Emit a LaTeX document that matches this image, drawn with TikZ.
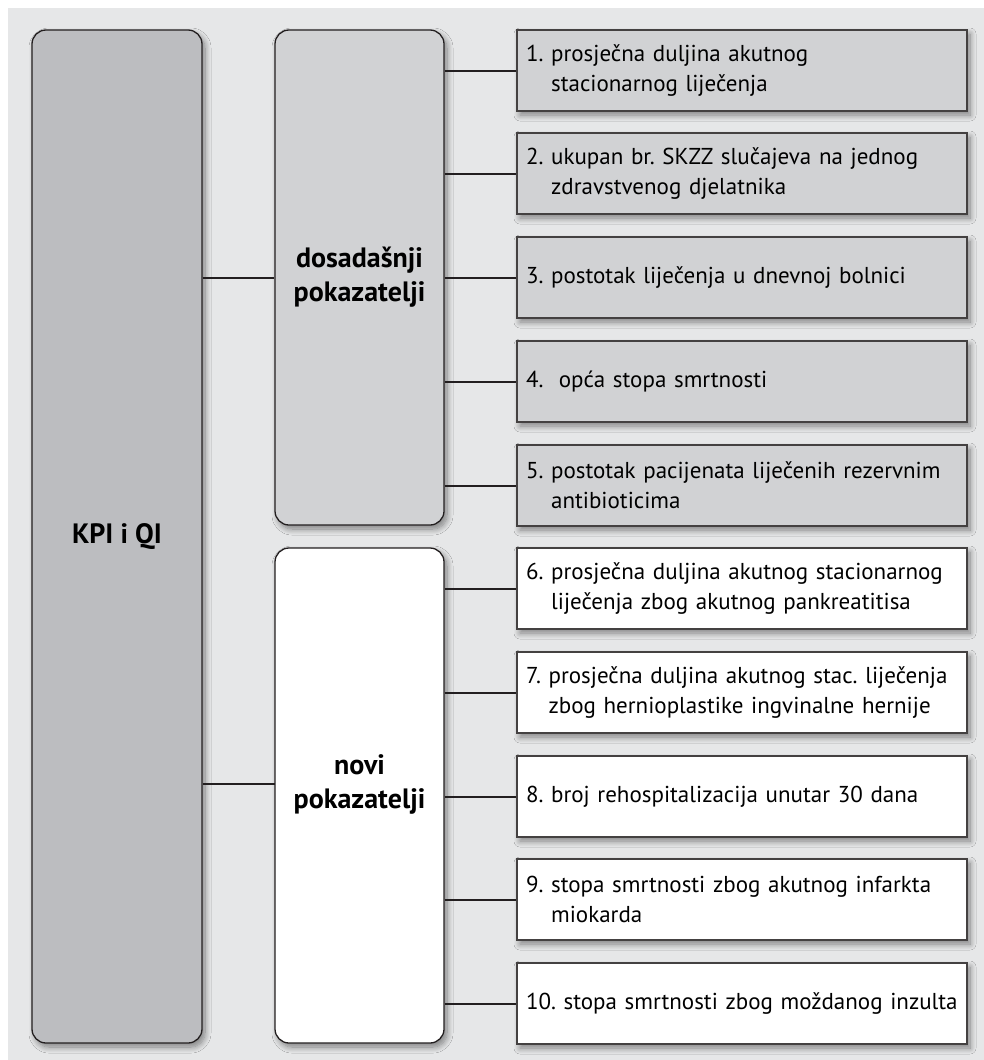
\documentclass[tikz,border=0pt]{standalone}
\usepackage{fontspec}
\setmainfont{PT Sans}
\usepackage{xcolor}
\usetikzlibrary{shadows.blur}
\definecolor{pozadina}{HTML}{E6E7E8}
\definecolor{sivatamna}{HTML}{BCBDC0}
\definecolor{sivasvijetla}{HTML}{D1D2D4}
\definecolor{rub}{HTML}{231F20}
\frenchspacing

\begin{document}
\begin{tikzpicture}[
			     x=1pt, y=-1pt,
			     sjena/.style={blur shadow={shadow xshift=3pt, shadow yshift=-4pt, shadow blur radius=6pt, shadow blur steps=10, shadow opacity=45}},
			     okvir/.style={draw=rub, line width=1.3pt, rounded corners=14pt, sjena},
			     naslov/.style={align=center, font=\fontsize{28}{34}\selectfont\bfseries},
			     stavka/.style={draw=rub!85, line width=1.2pt, sjena, minimum height=81pt, text width=432pt, inner xsep=9pt, align=left, font=\fontsize{23}{30}\selectfont},
			     veza/.style={draw=rub, line width=2pt}
			     ]
\useasboundingbox (0,0) rectangle (984,1060);
\fill[pozadina] (8,8) rectangle (984,1060);

\node[okvir, naslov, fill=sivatamna, minimum width=170pt, minimum height=1013pt] (kpi) at (117,536.5) {KPI i QI};
\node[okvir, naslov, fill=sivasvijetla, minimum width=169pt, minimum height=495pt] (dosad) at (359.5,277.5) {dosadašnji\\pokazatelji};
\node[okvir, fill=white, minimum width=169pt, minimum height=495pt] (novi) at (359.5,795.5) {};
\coordinate (novi-ulaz) at (275,784);
\node[naslov] (novi-natpis) at (novi.center |- novi-ulaz) {novi\\pokazatelji};

\node[stavka, fill=sivasvijetla] (s1) at (742,70.5) {1. prosječna duljina akutnog\\\phantom{1. }stacionarnog liječenja};
\node[stavka, fill=sivasvijetla] (s2) at (742,173.5) {2. ukupan br. SKZZ slučajeva na jednog\\\phantom{2. }zdravstvenog djelatnika};
\node[stavka, fill=sivasvijetla] (s3) at (742,277.5) {3. postotak liječenja u dnevnoj bolnici};
\node[stavka, fill=sivasvijetla] (s4) at (742,381.5) {4.\ \ opća stopa smrtnosti};
\node[stavka, fill=sivasvijetla] (s5) at (742,485.5) {5. postotak pacijenata liječenih rezervnim\\\phantom{5. }antibioticima};
\node[stavka, fill=white] (s6) at (742,588.5) {6. prosječna duljina akutnog stacionarnog\\\phantom{6. }liječenja zbog akutnog pankreatitisa};
\node[stavka, fill=white] (s7) at (742,692.5) {7. prosječna duljina akutnog stac. liječenja\\\phantom{7. }zbog hernioplastike ingvinalne hernije};
\node[stavka, fill=white] (s8) at (742,796.5) {8. broj rehospitalizacija unutar 30 dana};
\node[stavka, fill=white] (s9) at (742,899.5) {9. stopa smrtnosti zbog akutnog infarkta\\\phantom{9. }miokarda};
\node[stavka, fill=white] (s10) at (742,1003.5) {10. stopa smrtnosti zbog moždanog inzulta};

% spojnice
\path[veza] (kpi.east |- dosad) -- (dosad.west);
\path[veza] (kpi.east |- novi-ulaz) -- (novi-ulaz);
\foreach \i in {1,...,5} \path[veza] (dosad.east |- s\i) -- (s\i.west);
\foreach \i in {6,...,10} \path[veza] (novi.east |- s\i) -- (s\i.west);
\end{tikzpicture}
\end{document}
